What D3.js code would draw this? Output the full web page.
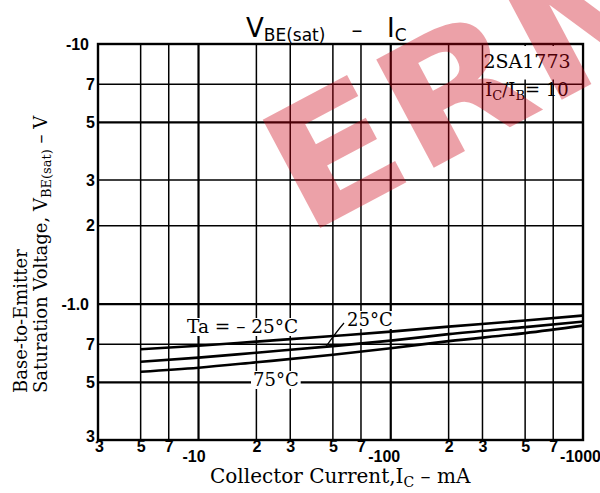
<!DOCTYPE html>
<html>
<head>
<meta charset="utf-8">
<script src="https://cdn.jsdelivr.net/npm/d3@7"></script>
<style>
  html, body { margin: 0; padding: 0; background: #fff; }
  svg { display: block; }
  .serif { font-family: "DejaVu Serif", "Liberation Serif", serif; }
  .tick-num { font-family: "Liberation Sans Narrow", "Liberation Sans", Arial, sans-serif; font-weight: bold; }
</style>
</head>
<body>
<svg id="chart" width="600" height="493"></svg>
<script>
// Collector current (mA, magnitude) at which the curves are sampled
const currentMA = [5, 10, 20, 50, 100, 200, 500, 1000];
// Base-to-emitter saturation voltage (V, magnitude) for each ambient temperature
const vbeTaM25 = [0.670, 0.691, 0.717, 0.753, 0.783, 0.819, 0.864, 0.903];
const vbeTa25  = [0.600, 0.622, 0.650, 0.689, 0.723, 0.766, 0.815, 0.856];
const vbeTa75  = [0.549, 0.569, 0.597, 0.638, 0.676, 0.720, 0.773, 0.826];

// Grid values
const xGrid = [5, 7, 10, 20, 30, 50, 70, 100, 200, 300, 500, 700];
const yGrid = [0.5, 0.7, 1, 2, 3, 5, 7];
// Tick labels
const xTickValues = [3, 5, 7, 10, 20, 30, 50, 70, 100, 200, 300, 500, 700, 1000];
const xTickLabels = ["3", "5", "7", "-10", "2", "3", "5", "7", "-100", "2", "3", "5", "7", "-1000"];
const yTickValues = [0.3, 0.5, 0.7, 1, 2, 3, 5, 7, 10];
const yTickLabels = ["3", "5", "7", "-1.0", "2", "3", "5", "7", "-10"];

const svg = d3.select("#chart");
const W = 600, H = 493;
const pL = 98, pR = 583, pT = 44, pB = 440;

const x = d3.scaleLog().domain([3, 1000]).range([pL, pR]);
const y = d3.scaleLog().domain([0.3, 10]).range([pB, pT]);

svg.append("rect").attr("width", W).attr("height", H).attr("fill", "#fff");

// Grid
const grid = svg.append("g").attr("stroke", "#000");
grid.selectAll("line.vx").data(xGrid).join("line")
  .attr("x1", d => x(d)).attr("x2", d => x(d))
  .attr("y1", pT).attr("y2", pB)
  .attr("stroke-width", d => (d === 10 || d === 100) ? 2.2 : 1.5);
grid.selectAll("line.hy").data(yGrid).join("line")
  .attr("y1", d => y(d)).attr("y2", d => y(d))
  .attr("x1", pL).attr("x2", pR)
  .attr("stroke-width", d => (d === 1 || d === 5 || d === 0.5) ? 2.2 : 1.6);

// Frame
svg.append("rect")
  .attr("x", pL).attr("y", pT)
  .attr("width", pR - pL).attr("height", pB - pT)
  .attr("fill", "none").attr("stroke", "#000").attr("stroke-width", 2.4);

// Part number / condition box
const noteBox = svg.append("g");
noteBox.append("rect")
  .attr("x", x(480)).attr("y", pT + 2)
  .attr("width", pR - 1.5 - x(480)).attr("height", y(7.3) - pT - 2)
  .attr("fill", "#fff");
noteBox.append("text").attr("class", "serif")
  .attr("x", 527).attr("y", 68).attr("text-anchor", "middle")
  .attr("font-size", 19).text("2SA1773");
const cond = noteBox.append("text").attr("class", "serif")
  .attr("x", 527).attr("y", 96).attr("text-anchor", "middle")
  .attr("font-size", 18);
cond.append("tspan").text("I");
cond.append("tspan").attr("font-size", 13).attr("dy", 4).text("C");
cond.append("tspan").attr("dy", -4).text("/I");
cond.append("tspan").attr("font-size", 13).attr("dy", 4).text("B");
cond.append("tspan").attr("dy", -4).text("= 10");

// Curves
const line = d3.line().x(d => x(d[0])).y(d => y(d[1])).curve(d3.curveMonotoneX);
const series = [vbeTaM25, vbeTa25, vbeTa75];
svg.append("g").selectAll("path").data(series).join("path")
  .attr("d", s => line(currentMA.map((c, i) => [c, s[i]])))
  .attr("fill", "none").attr("stroke", "#000").attr("stroke-width", 2.6);

// Curve labels with white backgrounds
function label(txt, px, py, size) {
  const g = svg.append("g");
  const t = g.append("text").attr("class", "serif")
    .attr("x", px).attr("y", py).attr("font-size", size).text(txt);
  const b = t.node().getBBox();
  g.insert("rect", "text")
    .attr("x", b.x - 2).attr("y", b.y + 2).attr("width", b.width + 4).attr("height", b.height - 3)
    .attr("fill", "#fff");
  return g;
}
label("Ta = \u2013 25\u00B0C", 187, 333, 18.5);
label("25\u00B0C", 347, 326, 18);
label("75\u00B0C", 253, 386, 18);
// Leader from the 25°C label to its curve
const iLead = 46;
const vLead = d3.interpolateNumber(vbeTa25[2], vbeTa25[3])(Math.log(iLead / 20) / Math.log(50 / 20));
svg.append("path")
  .attr("d", `M344,323 Q337,331 ${x(iLead)},${y(vLead)}`)
  .attr("fill", "none").attr("stroke", "#000").attr("stroke-width", 1.2);

// X axis tick labels
const xAxis = d3.axisBottom(x).tickValues(xTickValues)
  .tickFormat((d, i) => xTickLabels[i]).tickSize(0).tickPadding(0);
const gx = svg.append("g").attr("transform", `translate(0,${pB})`).call(xAxis);
gx.select(".domain").remove();
gx.selectAll("text").attr("class", "tick-num").attr("font-size", 16).attr("fill", "#000")
  .attr("dy", (d) => (d === 10 || d === 100 || d === 1000) ? "1.4em" : "0.78em")
  .attr("dx", (d) => d === 10 ? -5 : d === 100 ? -7 : d === 1000 ? -3 : d === 3 ? 1 : 0);

// Y axis tick labels
const yAxis = d3.axisLeft(y).tickValues(yTickValues)
  .tickFormat((d, i) => yTickLabels[i]).tickSize(0).tickPadding(5);
const gy = svg.append("g").attr("transform", `translate(${pL},0)`).call(yAxis);
gy.select(".domain").remove();
gy.selectAll("text").attr("class", "tick-num").attr("font-size", 16).attr("fill", "#000")
  .attr("dx", d => (d === 10 || d === 1) ? -4 : 2)
  .attr("dy", d => d === 0.3 ? "0.1em" : "0.32em");

// Title
const titleFont = "DejaVu Sans, Liberation Sans, sans-serif";
const title = svg.append("text")
  .attr("x", 246).attr("y", 37)
  .attr("font-family", titleFont).attr("font-size", 26);
title.append("tspan").text("V");
title.append("tspan").attr("font-size", 17).attr("dy", 4).text("BE(sat)");
svg.append("text").attr("x", 357).attr("y", 37).attr("text-anchor", "middle")
  .attr("font-family", titleFont).attr("font-size", 22).text("\u2013");
const titleI = svg.append("text").attr("x", 387).attr("y", 37)
  .attr("font-family", titleFont).attr("font-size", 26);
titleI.append("tspan").text("I");
titleI.append("tspan").attr("font-size", 17).attr("dy", 4).text("C");

// X axis title
const xt = svg.append("text").attr("class", "serif")
  .attr("x", 210).attr("y", 483).attr("font-size", 20);
xt.append("tspan").text("Collector Current,I");
xt.append("tspan").attr("font-size", 14).attr("dy", 4).text("C");
xt.append("tspan").attr("dy", -4).text(" \u2013 mA");

// Y axis title (two lines)
const yt = svg.append("g").attr("transform", "translate(0,393) rotate(-90)");
yt.append("text").attr("class", "serif").attr("x", 0).attr("y", 27)
  .attr("font-size", 18).text("Base-to-Emitter");
const yt2 = yt.append("text").attr("class", "serif").attr("x", 0).attr("y", 47)
  .attr("font-size", 18);
yt2.append("tspan").text("Saturation Voltage, V");
yt2.append("tspan").attr("font-size", 13).attr("dy", 4).text("BE(sat)");
yt2.append("tspan").attr("dy", -4).text(" \u2013 V");

// Watermark overlay
svg.append("text")
  .attr("transform", "translate(305,236) rotate(-28) scale(1.12,1)")
  .attr("font-family", "DejaVu Sans, Liberation Sans, sans-serif")
  .attr("font-weight", "bold")
  .attr("font-size", 168)
  .attr("fill", "#cc0014").attr("fill-opacity", 0.37)
  .text("ERM");
</script>
</body>
</html>
